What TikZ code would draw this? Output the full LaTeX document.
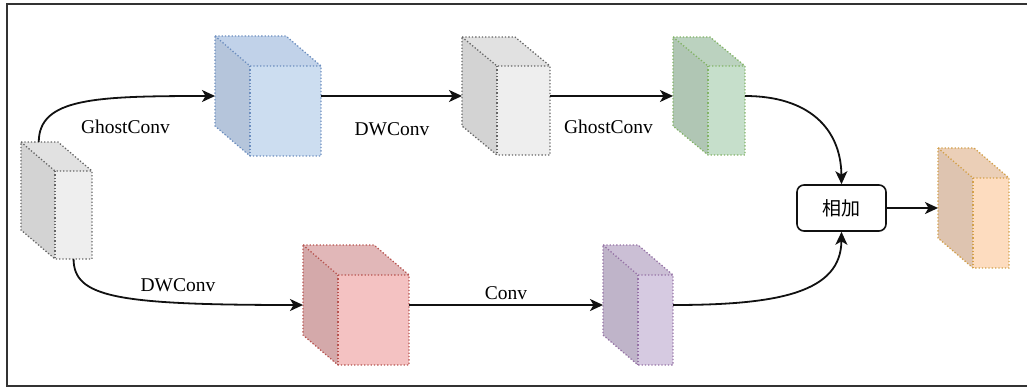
\documentclass[tikz,border=0pt]{standalone}
\usepackage{fontspec}
\setmainfont{Liberation Serif}
\newfontfamily\cjk{Noto Sans CJK SC}
\usetikzlibrary{arrows.meta,calc}
\definecolor{gF}{HTML}{EEEEEE}\definecolor{gS}{HTML}{D3D3D3}\definecolor{gT}{HTML}{E1E1E1}\definecolor{gL}{HTML}{666666}
\definecolor{bF}{HTML}{CCDDF0}\definecolor{bS}{HTML}{B5C5DB}\definecolor{bT}{HTML}{C1D2E9}\definecolor{bL}{HTML}{6C8EBF}
\definecolor{nF}{HTML}{C6DFCB}\definecolor{nS}{HTML}{B0C6B4}\definecolor{nT}{HTML}{BBD2BF}\definecolor{nL}{HTML}{82B366}
\definecolor{oF}{HTML}{FDDCBF}\definecolor{oS}{HTML}{DEC4B0}\definecolor{oT}{HTML}{EBCFB7}\definecolor{oL}{HTML}{D3A04A}
\definecolor{rF}{HTML}{F4C2C2}\definecolor{rS}{HTML}{D4A9AA}\definecolor{rT}{HTML}{E1B7B8}\definecolor{rL}{HTML}{B85450}
\definecolor{pF}{HTML}{D6CAE1}\definecolor{pS}{HTML}{BFB4C9}\definecolor{pT}{HTML}{CBBFD5}\definecolor{pL}{HTML}{9673A6}
\definecolor{frame}{HTML}{333333}
\definecolor{ink}{HTML}{111111}
\tikzset{
  dotline/.style={line width=1.3pt, dash pattern=on 1.3pt off 2pt},
  conn/.style={draw=ink, line width=1.8pt, -{Stealth[length=13pt,width=12pt,inset=3.5pt]}},
  lbl/.style={font=\fontsize{19.5}{22}\selectfont, inner sep=1pt},
  adder/.style={draw=ink, line width=1.6pt, rounded corners=7pt, minimum width=89pt, minimum height=46pt, font=\cjk\fontsize{19}{22}\selectfont},
  hold/.style={inner sep=0pt, outer sep=0pt, draw=none}
}
% #1 name, #2 x0, #3 y0, #4 w, #5 h, #6 dx, #7 dy, #8 colour prefix
\newcommand{\cuboid}[8]{%
  \fill[#8T] (#2,#3) -- ++(#4,0) -- ++(#6,#7) -- ++(-#4,0) -- cycle;
  \fill[#8S] (#2,#3) -- ++(#6,#7) -- ++(0,#5) -- ++(-#6,-#7) -- cycle;
  \fill[#8F] (#2,#3) ++(#6,#7) rectangle ++(#4,#5);
  \draw[#8L, dotline] (#2,#3) -- ++(#4,0) -- ++(#6,#7) -- ++(0,#5) -- ++(-#4,0) -- ++(-#6,-#7) -- cycle;
  \draw[#8L, dotline] (#2,#3) -- ++(#6,#7) -- ++(#4,0);
  \draw[#8L, dotline] (#2,#3) ++(#6,#7) -- ++(0,#5);
  \node[hold, minimum width=#4pt+#6pt, minimum height=#5pt+#7pt, anchor=north west] (#1) at (#2,#3) {};
}
\begin{document}
\begin{tikzpicture}[x=1pt,y=-1pt]
\useasboundingbox (0,0) rectangle (1027,388);
\draw[frame, line width=2pt] (1027,3.5) -- (7,3.5) -- (7,385.5) -- (1027,385.5);

\cuboid{c1}{21}{142}{37}{88}{34}{29}{g}
\cuboid{c2}{215}{36}{71}{90}{35}{30}{b}
\cuboid{c3}{462}{37}{53}{89}{35}{29}{g}
\cuboid{c4}{673}{37}{37}{89}{35}{29}{n}
\cuboid{c5}{938}{148}{36}{90}{35}{30}{o}
\cuboid{c6}{303}{245}{71}{90}{35}{30}{r}
\cuboid{c7}{603}{245}{35}{90}{35}{30}{p}

\node[adder] (add) at (841.5,208) {相加};

\coordinate (c1top) at ($(c1.north west)!0.25!(c1.north east)$);
\coordinate (c1bot) at ($(c1.south west)!0.74!(c1.south east)$);

\draw[conn] (c1top) .. controls (39,98) and (95,96) .. (c2.west);
\draw[conn] (c2.east) -- (c3.west);
\draw[conn] (c3.east) -- (c4.west);
\draw[conn] (c4.east) .. controls (808,96) and (841,128) .. (add.north);
\draw[conn] (c1bot) .. controls (74,297) and (115,305) .. (c6.west);
\draw[conn] (c6.east) -- (c7.west);
\draw[conn] (c7.east) .. controls (780,305) and (841,292) .. (add.south);
\draw[conn] (add.east) -- (c5.west);

\node[lbl] (l1) at (125.5,127) {GhostConv};
\node[lbl] (l2) at (392,129) {DWConv};
\node[lbl] (l3) at (608.5,127) {GhostConv};
\node[lbl] (l4) at (178,285) {DWConv};
\node[lbl] (l5) at (506,293) {Conv};
\end{tikzpicture}
\end{document}
